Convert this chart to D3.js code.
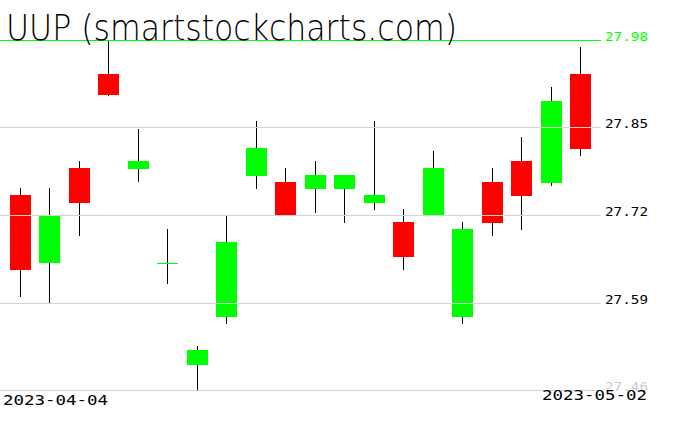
<!DOCTYPE html>
<html><head><meta charset="utf-8">
<script src="https://cdn.jsdelivr.net/npm/d3@7"></script>
<style>html,body{margin:0;padding:0;background:#fff;overflow:hidden}</style>
</head><body><svg id="c" width="676" height="431"></svg>
<script>
const title = "UUP (smartstockcharts.com)";
const dates = ["2023-04-04","2023-04-05","2023-04-06","2023-04-10","2023-04-11","2023-04-12","2023-04-13","2023-04-14","2023-04-17","2023-04-18","2023-04-19","2023-04-20","2023-04-21","2023-04-24","2023-04-25","2023-04-26","2023-04-27","2023-04-28","2023-05-01","2023-05-02"];
const open  = [27.750,27.649,27.791,27.930,27.789,27.650,27.498,27.569,27.779,27.770,27.759,27.759,27.739,27.710,27.721,27.569,27.770,27.801,27.768,27.930];
const high  = [27.761,27.761,27.801,27.980,27.849,27.700,27.526,27.719,27.860,27.791,27.801,27.780,27.860,27.730,27.816,27.710,27.791,27.837,27.911,27.970];
const low   = [27.599,27.590,27.690,27.898,27.770,27.618,27.460,27.559,27.759,27.721,27.724,27.709,27.728,27.639,27.721,27.559,27.690,27.698,27.764,27.808];
const close = [27.639,27.719,27.739,27.899,27.801,27.650,27.520,27.681,27.820,27.721,27.780,27.780,27.750,27.658,27.791,27.700,27.709,27.749,27.890,27.819];
const yTicks = [27.46, 27.59, 27.72, 27.85, 27.98];
const yTickColors = ["#cccccc", "#000000", "#000000", "#000000", "#00ff00"];
const dateLabels = ["2023-04-04", "2023-05-02"];

const svg = d3.select("#c");
const x = d3.scalePoint().domain(dates).range([20.5, 580.5]);
const y = d3.scaleLinear().domain([27.46, 27.98]).range([390.5, 40.5]);
const data = dates.map((d, i) => ({d, o: open[i], h: high[i], l: low[i], c: close[i]}));

const g = svg.append("g");
g.selectAll("line.wick").data(data).join("line")
  .attr("x1", d => Math.floor(x(d.d)) + 0.5).attr("x2", d => Math.floor(x(d.d)) + 0.5)
  .attr("y1", d => Math.round(y(d.h))).attr("y2", d => Math.round(y(d.l)))
  .attr("stroke", "#000").attr("stroke-width", 1);
g.selectAll("rect.body").data(data).join("rect")
  .attr("x", d => Math.round(x(d.d) - 10.5)).attr("width", 21)
  .attr("y", d => Math.round(y(Math.max(d.o, d.c))))
  .attr("height", d => Math.max(1, Math.round(y(Math.min(d.o, d.c))) - Math.round(y(Math.max(d.o, d.c)))))
  .attr("fill", d => d.c >= d.o ? "#00ff00" : "#ff0000")
  .attr("shape-rendering", "crispEdges");

// grid lines on top
const gy = t => Math.round(y(t) - 0.5) + 0.5;
svg.selectAll("line.grid").data(yTicks).join("line")
  .attr("x1", 0).attr("x2", 601).attr("y1", gy).attr("y2", gy)
  .attr("stroke", (t, i) => i === yTicks.length - 1 ? "#00ff00" : "#d3d3d3").attr("stroke-width", 1);

svg.selectAll("text.ytick").data(yTicks).join("text")
  .attr("x", 605).attr("y", t => gy(t) + 0.5)
  .attr("fill", (t, i) => yTickColors[i])
  .attr("font-family", "DejaVu Sans Mono, monospace").attr("font-size", 13)
  .attr("textLength", 43).attr("lengthAdjust", "spacingAndGlyphs")
  .text(t => t.toFixed(2));

svg.append("text").attr("x", 3).attr("y", 404.5)
  .attr("font-family", "DejaVu Sans Mono, monospace").attr("font-size", 14)
  .attr("textLength", 105).attr("lengthAdjust", "spacingAndGlyphs")
  .text(dateLabels[0]);
svg.append("text").attr("x", 542).attr("y", 399.5)
  .attr("font-family", "DejaVu Sans Mono, monospace").attr("font-size", 14)
  .attr("textLength", 105).attr("lengthAdjust", "spacingAndGlyphs")
  .text(dateLabels[1]);

svg.append("text").attr("x", 6).attr("y", 39.5)
  .attr("font-family", "'DejaVu Sans', sans-serif").attr("font-weight", 200)
  .attr("font-size", 36)
  .attr("textLength", 451).attr("lengthAdjust", "spacingAndGlyphs")
  .text(title);
</script></body></html>
